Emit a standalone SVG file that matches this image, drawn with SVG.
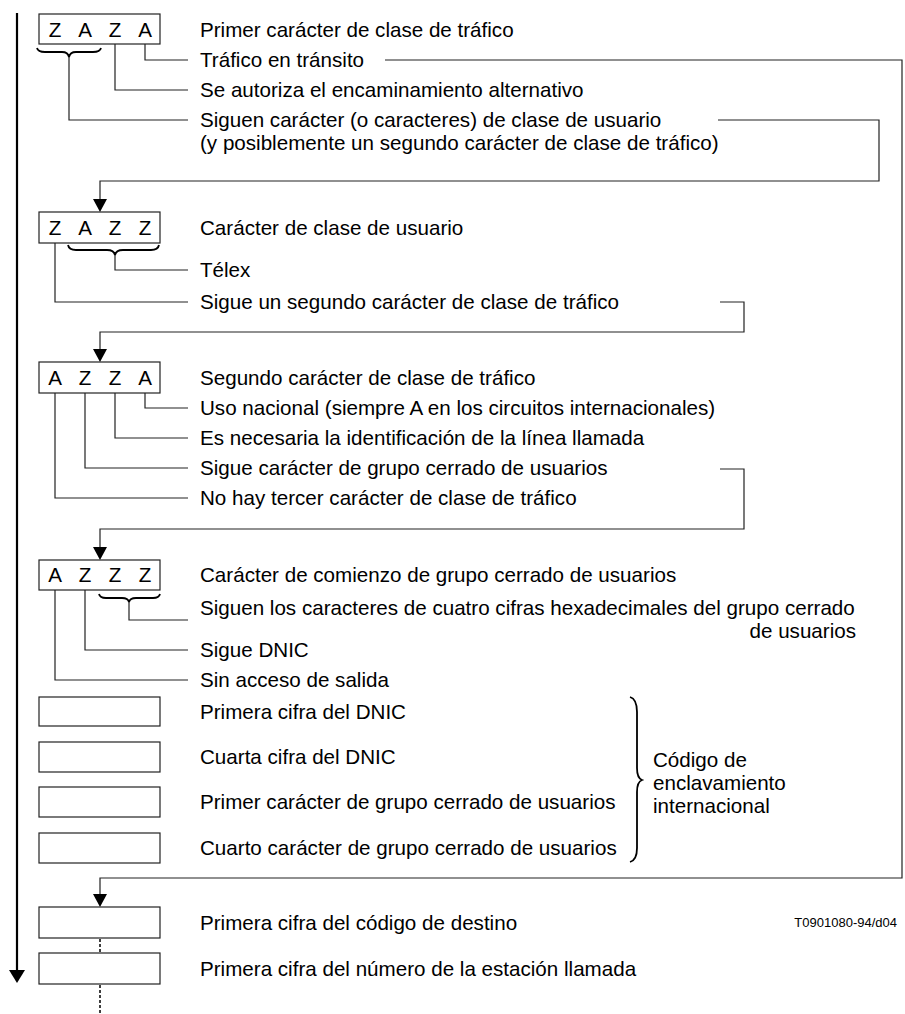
<svg xmlns="http://www.w3.org/2000/svg" width="905" height="1014" viewBox="0 0 905 1014">
<style>
text{font-family:"Liberation Sans",Arial,sans-serif;font-size:20.6px;fill:#000}
.c{text-anchor:middle}
.box{fill:#fff;stroke:#222;stroke-width:1.2}
.ln{fill:none;stroke:#222;stroke-width:1.2}
.br{fill:none;stroke:#000;stroke-width:1.8}
.ah{fill:#000}
.dot{stroke:#000;stroke-width:1.5;stroke-dasharray:3,2}
</style>
<rect width="905" height="1014" fill="#fff"/>
<g id="main-arrow">
<line x1="17" y1="13" x2="17" y2="972" stroke="#000" stroke-width="2.2"/>
<polygon class="ah" points="17,983 9,970 25,970"/>
</g>
<g id="connectors">
<path class="ln" d="M145,44V60H188"/>
<path class="ln" d="M115,44V90H188"/>
<path class="ln" d="M69,57V120H188"/>
<path class="ln" d="M385,60H902V878H100V896"/>
<polygon class="ah" points="100,907 93,894 107,894"/>
<path class="ln" d="M718,120H879V181H100V200"/>
<polygon class="ah" points="100,212 93,199 107,199"/>
<path class="ln" d="M115,255V270H188"/>
<path class="ln" d="M55,243V302H188"/>
<path class="ln" d="M720,302H744V332H100V350"/>
<polygon class="ah" points="100,362 93,349 107,349"/>
<path class="ln" d="M145,393V408H188"/>
<path class="ln" d="M115,393V438H188"/>
<path class="ln" d="M85,393V468H188"/>
<path class="ln" d="M55,393V498H188"/>
<path class="ln" d="M720,469H744V529H100V548"/>
<polygon class="ah" points="100,560 93,547 107,547"/>
<path class="ln" d="M129,602V620H188"/>
<path class="ln" d="M85,590V650H188"/>
<path class="ln" d="M55,590V680H188"/>
<line class="dot" x1="100" y1="939" x2="100" y2="953"/>
<line class="dot" x1="100" y1="985" x2="100" y2="1013"/>
</g>
<g id="node-zaza">
<rect class="box" x="39" y="14" width="121" height="30"/>
<text class="c" x="55" y="37">Z</text><text class="c" x="85" y="37">A</text><text class="c" x="115" y="37">Z</text><text class="c" x="145" y="37">A</text>
<path class="br" d="M37,48Q38,52 45,52L62,52Q68,52 69,57Q70,52 76,52L93,52Q100,52 101,48"/>
<text x="200" y="37">Primer carácter de clase de tráfico</text>
<text x="200" y="67">Tráfico en tránsito</text>
<text x="200" y="97">Se autoriza el encaminamiento alternativo</text>
<text x="200" y="127">Siguen carácter (o caracteres) de clase de usuario</text>
<text x="200" y="150">(y posiblemente un segundo carácter de clase de tráfico)</text>
</g>
<g id="node-zazz">
<rect class="box" x="39" y="212" width="121" height="31"/>
<text class="c" x="55" y="235">Z</text><text class="c" x="85" y="235">A</text><text class="c" x="115" y="235">Z</text><text class="c" x="145" y="235">Z</text>
<path class="br" d="M68,245Q69,250 76,250L107,250Q114,250 115,255Q116,250 123,250L151,250Q158,250 159,245"/>
<text x="200" y="235">Carácter de clase de usuario</text>
<text x="200" y="277">Télex</text>
<text x="200" y="309">Sigue un segundo carácter de clase de tráfico</text>
</g>
<g id="node-azza">
<rect class="box" x="39" y="362" width="121" height="31"/>
<text class="c" x="55" y="385">A</text><text class="c" x="85" y="385">Z</text><text class="c" x="115" y="385">Z</text><text class="c" x="145" y="385">A</text>
<text x="200" y="385">Segundo carácter de clase de tráfico</text>
<text x="200" y="415">Uso nacional (siempre A en los circuitos internacionales)</text>
<text x="200" y="445">Es necesaria la identificación de la línea llamada</text>
<text x="200" y="475">Sigue carácter de grupo cerrado de usuarios</text>
<text x="200" y="505">No hay tercer carácter de clase de tráfico</text>
</g>
<g id="node-azzz">
<rect class="box" x="39" y="560" width="121" height="30"/>
<text class="c" x="55" y="582">A</text><text class="c" x="85" y="582">Z</text><text class="c" x="115" y="582">Z</text><text class="c" x="145" y="582">Z</text>
<path class="br" d="M99,594Q100,598 106,598L122,598Q128,598 129,602Q130,598 136,598L153,598Q159,598 160,594"/>
<text x="200" y="582">Carácter de comienzo de grupo cerrado de usuarios</text>
<text x="200" y="615">Siguen los caracteres de cuatro cifras hexadecimales del grupo cerrado</text>
<text x="856" y="638" text-anchor="end">de usuarios</text>
<text x="200" y="657">Sigue DNIC</text>
<text x="200" y="687">Sin acceso de salida</text>
</g>
<g id="node-dnic1">
<rect class="box" x="39" y="697" width="121" height="29"/>
<text x="200" y="719">Primera cifra del DNIC</text>
</g>
<g id="node-dnic4">
<rect class="box" x="39" y="742" width="121" height="30"/>
<text x="200" y="764">Cuarta cifra del DNIC</text>
</g>
<g id="node-gcu1">
<rect class="box" x="39" y="787" width="121" height="30"/>
<text x="200" y="809">Primer carácter de grupo cerrado de usuarios</text>
</g>
<g id="node-gcu4">
<rect class="box" x="39" y="833" width="121" height="30"/>
<text x="200" y="855">Cuarto carácter de grupo cerrado de usuarios</text>
</g>
<g id="brace-enclavamiento">
<path class="br" d="M630,697Q637,699 637,712L637,768Q637,778 642,780Q637,782 637,792L637,848Q637,860 630,862"/>
<text x="653" y="767">Código de</text>
<text x="653" y="790">enclavamiento</text>
<text x="653" y="813">internacional</text>
</g>
<g id="node-destino">
<rect class="box" x="39" y="907" width="121" height="31"/>
<text x="200" y="930">Primera cifra del código de destino</text>
</g>
<g id="node-estacion">
<rect class="box" x="39" y="953" width="121" height="31"/>
<text x="200" y="976">Primera cifra del número de la estación llamada</text>
</g>
<text x="897" y="927" text-anchor="end" style="font-size:13px">T0901080-94/d04</text>
</svg>
